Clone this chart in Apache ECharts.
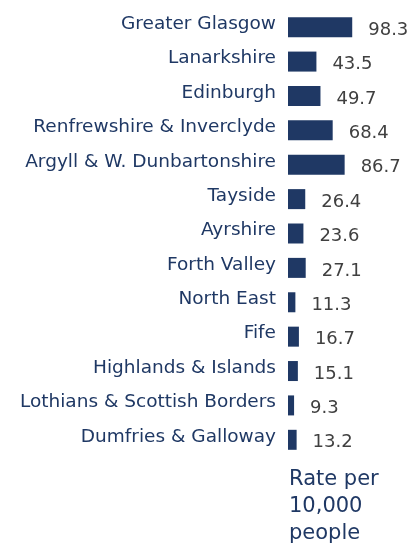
<!DOCTYPE html>
<html>
<head>
<meta charset="utf-8">
<script src="https://cdn.jsdelivr.net/npm/echarts@6/dist/echarts.min.js"></script>
<style>
    html, body { margin: 0; padding: 0; background: #fff; }
    #chart { width: 414px; height: 543px; }
</style>
</head>
<body>
<div id="chart"></div>
<script>
// health boards, top to bottom
const boards = [
    'Greater Glasgow', 'Lanarkshire', 'Edinburgh', 'Renfrewshire & Inverclyde',
    'Argyll & W. Dunbartonshire', 'Tayside', 'Ayrshire', 'Forth Valley',
    'North East', 'Fife', 'Highlands & Islands', 'Lothians & Scottish Borders',
    'Dumfries & Galloway'
]
const rates = [98.3, 43.5, 49.7, 68.4, 86.7, 26.4, 23.6, 27.1, 11.3, 16.7, 15.1, 9.3, 13.2]
const unitNote = 'Rate per\n10,000\npeople'

const navy = '#1f3864'
const chart = echarts.init(document.getElementById('chart'))
chart.setOption({
    animation: false,
    grid: {
        left: 288,
        right: 28,
        top: 10,
        height: 447
    },
    xAxis: {
        type: 'value',
        min: 0,
        max: 150,
        show: false
    },
    yAxis: {
        type: 'category',
        inverse: true,
        data: boards,
        axisLine: { show: false },
        axisTick: { show: false },
        axisLabel: {
            margin: 12,
            color: navy,
            fontFamily: 'DejaVu Sans',
            fontSize: 18.5,
            verticalAlign: 'bottom',
            lineHeight: 6
        }
    },
    series: [
        {
            type: 'bar',
            data: rates,
            barWidth: 20,
            itemStyle: { color: navy },
            label: {
                show: true,
                position: 'right',
                distance: 16,
                offset: [0, 3],
                color: '#404040',
                fontFamily: 'DejaVu Sans',
                fontSize: 18
            }
        }
    ],
    graphic: [
        {
            type: 'text',
            left: 289,
            top: 466,
            style: {
                text: unitNote,
                fill: navy,
                font: '21px "DejaVu Sans"',
                lineHeight: 27
            }
        }
    ]
})
</script>
</body>
</html>
